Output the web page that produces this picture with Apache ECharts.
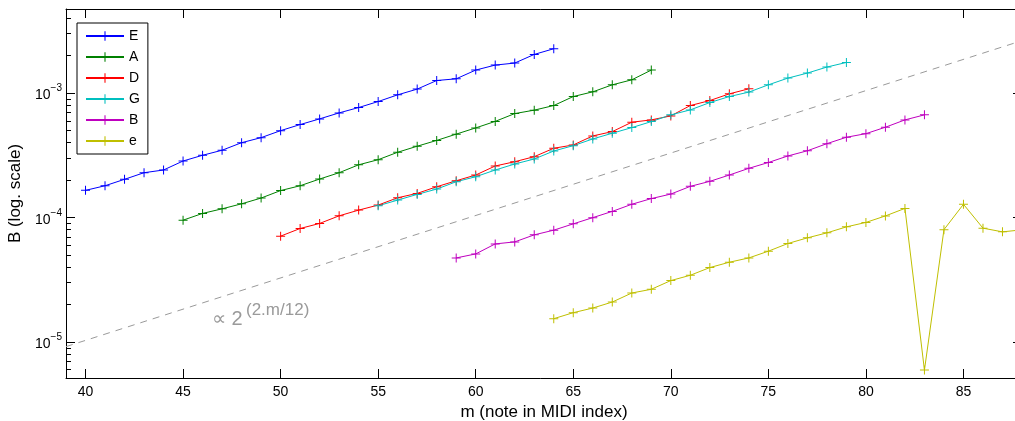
<!DOCTYPE html>
<html><head><meta charset="utf-8">
<script src="https://cdn.jsdelivr.net/npm/echarts@6/dist/echarts.min.js"></script>
<style>html,body{margin:0;padding:0;background:#fff}#c{width:1015px;height:421px}</style>
</head><body><div id="c"></div>
<script>
// ---- data ----
const seriesNames = ['E', 'A', 'D', 'G', 'B', 'e'];
const midiStart = [40, 45, 50, 55, 59, 64];
const valuesE = [1.656e-4, 1.803e-4, 2.031e-4, 2.295e-4, 2.413e-4, 2.85e-4, 3.168e-4, 3.477e-4, 4.0e-4, 4.39e-4, 4.998e-4, 5.59e-4, 6.21e-4, 6.94e-4, 7.66e-4, 8.56e-4, 9.69e-4, 1.077e-3, 1.263e-3, 1.303e-3, 1.532e-3, 1.68e-3, 1.744e-3, 2.046e-3, 2.273e-3];
const valuesA = [9.54e-5, 1.081e-4, 1.177e-4, 1.291e-4, 1.436e-4, 1.650e-4, 1.803e-4, 2.042e-4, 2.295e-4, 2.656e-4, 2.92e-4, 3.35e-4, 3.745e-4, 4.17e-4, 4.685e-4, 5.255e-4, 5.93e-4, 6.85e-4, 7.30e-4, 7.95e-4, 9.39e-4, 1.024e-3, 1.166e-3, 1.279e-3, 1.532e-3];
const valuesD = [7.10e-5, 8.18e-5, 8.98e-5, 1.034e-4, 1.149e-4, 1.261e-4, 1.444e-4, 1.566e-4, 1.770e-4, 1.978e-4, 2.199e-4, 2.599e-4, 2.813e-4, 3.087e-4, 3.607e-4, 3.834e-4, 4.531e-4, 4.907e-4, 5.84e-4, 6.095e-4, 6.566e-4, 7.95e-4, 8.717e-4, 9.87e-4, 1.083e-3];
const valuesG = [1.245e-4, 1.383e-4, 1.537e-4, 1.696e-4, 1.942e-4, 2.131e-4, 2.412e-4, 2.696e-4, 2.958e-4, 3.430e-4, 3.785e-4, 4.285e-4, 4.763e-4, 5.284e-4, 5.906e-4, 6.69e-4, 7.335e-4, 8.40e-4, 9.39e-4, 1.019e-3, 1.166e-3, 1.320e-3, 1.449e-3, 1.620e-3, 1.764e-3];
const valuesB = [4.745e-5, 5.11e-5, 6.15e-5, 6.385e-5, 7.27e-5, 7.93e-5, 8.91e-5, 1.0e-4, 1.122e-4, 1.280e-4, 1.422e-4, 1.546e-4, 1.783e-4, 1.956e-4, 2.199e-4, 2.489e-4, 2.772e-4, 3.128e-4, 3.443e-4, 3.928e-4, 4.42e-4, 4.727e-4, 5.323e-4, 6.095e-4, 6.69e-4];
const valuesHighE = [1.543e-5, 1.724e-5, 1.878e-5, 2.099e-5, 2.48e-5, 2.657e-5, 3.122e-5, 3.443e-5, 3.972e-5, 4.383e-5, 4.745e-5, 5.375e-5, 6.197e-5, 6.877e-5, 7.543e-5, 8.43e-5, 9.15e-5, 1.032e-4, 1.186e-4, 5.96e-6, 8.007e-5, 1.280e-4, 8.23e-5, 7.685e-5, 7.98e-5];
const refLine = [[39, 9.2e-6], [88, 2.64e-3]];
const xTicks = [40, 45, 50, 55, 60, 65, 70, 75, 80, 85];
const yMajorTicks = [1e-5, 1e-4, 1e-3];
const yMinorTicks = [6e-6, 7e-6, 8e-6, 9e-6, 2e-5, 3e-5, 4e-5, 5e-5, 6e-5, 7e-5, 8e-5, 9e-5,
  2e-4, 3e-4, 4e-4, 5e-4, 6e-4, 7e-4, 8e-4, 9e-4, 2e-3, 3e-3, 4e-3];
const xRange = [39, 88];
const yRange = [5.15e-6, 4.74e-3];

// ---- style ----
const colors = ['#0000ff', '#008000', '#ff0000', '#00bfbf', '#bf00bf', '#bfbf00'];
const allValues = [valuesE, valuesA, valuesD, valuesG, valuesB, valuesHighE];
const FONT = '"Liberation Sans", Arial, Helvetica, sans-serif';
const plusPath = 'path://M4,0h1v9h-1zM0,4h9v1h-9z';

const series = seriesNames.map((name, k) => ({
  name: name,
  type: 'line',
  data: allValues[k].map((v, i) => [midiStart[k] + i, v]),
  symbol: plusPath,
  symbolSize: 9,
  showAllSymbol: true,
  lineStyle: { color: colors[k], width: 1 },
  itemStyle: { color: colors[k], borderWidth: 0 },
  emphasis: { disabled: true },
  z: 3
}));
series.unshift({
  name: 'ref',
  type: 'line',
  data: refLine,
  symbol: 'none',
  lineStyle: { color: '#9a9a9a', width: 1, type: [7, 6] },
  silent: true,
  z: 2
});

const yLog = (extra) => Object.assign({
  type: 'log', logBase: 10, min: yRange[0], max: yRange[1], gridIndex: 0,
  splitLine: { show: false }, minorTick: { show: false }
}, extra);

const chart = echarts.init(document.getElementById('c'), null, { renderer: 'canvas' });
chart.setOption({
  animation: false,
  backgroundColor: '#fff',
  textStyle: { fontFamily: FONT },
  grid: { left: 66, top: 9, width: 956, height: 369, containLabel: false, outerBoundsMode: 'none' },
  legend: {
    data: seriesNames,
    orient: 'vertical',
    left: 77, top: 23,
    itemWidth: 38, itemHeight: 12, itemGap: 7,
    padding: [6, 8, 6, 8],
    borderColor: '#000', borderWidth: 1, borderRadius: 0,
    backgroundColor: '#fff',
    textStyle: { fontSize: 14, color: '#000', fontFamily: FONT },
    itemStyle: { borderWidth: 0 },
    selectedMode: false
  },
  xAxis: [
    {
      type: 'value', position: 'bottom', min: xRange[0], max: xRange[1],
      name: 'm (note in MIDI index)', nameLocation: 'middle', nameGap: 23,
      nameTextStyle: { fontSize: 17, color: '#000', fontFamily: FONT },
      axisLine: { show: true, onZero: false, lineStyle: { color: '#000', width: 1 } },
      axisTick: { show: true, inside: true, length: 9, customValues: xTicks, lineStyle: { color: '#000' } },
      axisLabel: { show: true, customValues: xTicks, margin: 7, fontSize: 14, color: '#000', fontFamily: FONT },
      splitLine: { show: false }
    },
    {
      type: 'value', position: 'top', min: xRange[0], max: xRange[1],
      axisLine: { show: true, onZero: false, lineStyle: { color: '#000', width: 1 } },
      axisTick: { show: true, inside: true, length: 9, customValues: xTicks, lineStyle: { color: '#000' } },
      axisLabel: { show: false },
      splitLine: { show: false }
    }
  ],
  yAxis: [
    yLog({
      position: 'left',
      name: 'B (log. scale)', nameLocation: 'middle', nameGap: 40,
      nameTextStyle: { fontSize: 17, color: '#000', fontFamily: FONT },
      axisLine: { show: true, lineStyle: { color: '#000', width: 1 } },
      axisTick: { show: true, inside: true, length: 9, customValues: yMajorTicks, lineStyle: { color: '#000' } },
      axisLabel: {
        show: true, customValues: yMajorTicks, margin: 4,
        formatter: v => '{b|10}{s|\u2212' + Math.round(-Math.log10(v)) + '}',
        rich: {
          b: { fontSize: 14, color: '#000', fontFamily: FONT, verticalAlign: 'bottom' },
          s: { fontSize: 10, color: '#000', fontFamily: FONT, padding: [0, 0, 9, 0], verticalAlign: 'bottom' }
        }
      }
    }),
    yLog({
      position: 'left',
      axisLine: { show: false },
      axisTick: { show: true, inside: true, length: 5, customValues: yMinorTicks, lineStyle: { color: '#000' } },
      axisLabel: { show: false }
    }),
    yLog({
      position: 'right',
      axisLine: { show: true, lineStyle: { color: '#000', width: 1 } },
      axisTick: { show: true, inside: true, length: 9, customValues: yMajorTicks, lineStyle: { color: '#000' } },
      axisLabel: { show: false }
    }),
    yLog({
      position: 'right',
      axisLine: { show: false },
      axisTick: { show: true, inside: true, length: 5, customValues: yMinorTicks, lineStyle: { color: '#000' } },
      axisLabel: { show: false }
    })
  ],
  graphic: [
    { type: 'text', left: 212, top: 309, silent: true,
      style: { text: '\u221d 2', font: '20px ' + FONT, fill: '#9a9a9a' } },
    { type: 'text', left: 246, top: 302, silent: true,
      style: { text: '(2.m/12)', font: '17px ' + FONT, fill: '#9a9a9a' } }
  ],
  series: series
});
</script>
</body></html>
